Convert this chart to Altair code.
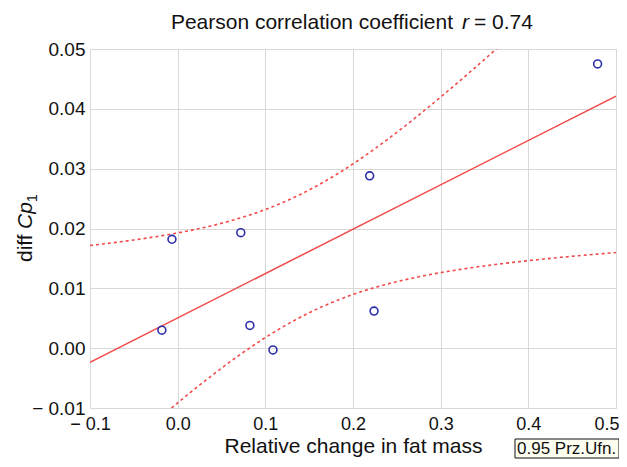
import altair as alt
import numpy as np
import pandas as pd

# ---- data ----
fat_change = [-0.018, -0.0065, 0.072, 0.0824, 0.1087, 0.219, 0.224, 0.479]
diff_cp1 = [0.0030, 0.0182, 0.0193, 0.0038, -0.0003, 0.0288, 0.0062, 0.0475]
x_ticks = [-0.1, 0.0, 0.1, 0.2, 0.3, 0.4, 0.5]
y_ticks = [-0.01, 0.0, 0.01, 0.02, 0.03, 0.04, 0.05]
x_domain = [-0.1, 0.5]
y_domain = [-0.01, 0.05]
t_crit = 2.447  # t(0.975, df=6) for the 0.95 confidence band

FONT = "Liberation Sans"
RED = "#f24a4a"
BLUE = "#2e2eaa"

pts = pd.DataFrame({"x": fat_change, "y": diff_cp1})

# 95% confidence band of the fitted mean, computed from the points
xa = np.array(fat_change)
ya = np.array(diff_cp1)
n = len(xa)
xm = xa.mean()
sxx = ((xa - xm) ** 2).sum()
slope = ((xa - xm) * (ya - ya.mean())).sum() / sxx
icpt = ya.mean() - slope * xm
resid = ya - (icpt + slope * xa)
s = np.sqrt((resid ** 2).sum() / (n - 2))
grid = np.linspace(x_domain[0], x_domain[1], 241)
fit = icpt + slope * grid
half = t_crit * s * np.sqrt(1.0 / n + (grid - xm) ** 2 / sxx)
band = pd.DataFrame(
    {
        "x": np.concatenate([grid, grid]),
        "y": np.concatenate([fit + half, fit - half]),
        "side": ["upper"] * len(grid) + ["lower"] * len(grid),
    }
)

label_expr_x = "datum.value < -0.0001 ? '\u2212 ' + format(abs(datum.value), '.1f') : format(abs(datum.value) < 0.0001 ? 0 : datum.value, '.1f')"
label_expr_y = "datum.value < -0.0001 ? '\u2212 ' + format(abs(datum.value), '.2f') : format(abs(datum.value) < 0.0001 ? 0 : datum.value, '.2f')"

xs = alt.Scale(domain=x_domain, nice=False, zero=False)
ys = alt.Scale(domain=y_domain, nice=False, zero=False)

x_axis = alt.Axis(
    values=x_ticks, labelExpr=label_expr_x, title="Relative change in fat mass",
    grid=True, gridColor="#d8d8d8", ticks=False, domain=False,
    labelFont=FONT, labelFontSize=18, labelColor="#111", labelPadding=7,
    labelAlign=alt.condition("datum.value > 0.45", alt.value("right"), alt.value("center")),
    labelOffset=alt.condition("datum.value > 0.45", alt.value(3), alt.value(0)),
    titleFont=FONT, titleFontSize=21, titleFontWeight="normal", titleColor="#111",
    titlePadding=2, labelFlush=False,
)
y_axis = alt.Axis(
    values=y_ticks, labelExpr=label_expr_y, title=None,
    grid=True, gridColor="#d8d8d8", ticks=False, domain=False,
    labelFont=FONT, labelFontSize=19, labelColor="#111", labelPadding=5,
    labelFlush=False,
)

base_pts = alt.Chart(pts)

points = base_pts.mark_point(shape="circle", filled=False, color=BLUE, size=62, strokeWidth=1.6, opacity=1).encode(
    x=alt.X("x:Q", scale=xs, axis=x_axis),
    y=alt.Y("y:Q", scale=ys, axis=y_axis),
)

reg = base_pts.transform_regression("x", "y", extent=x_domain).mark_line(
    color=RED, strokeWidth=1.5, clip=True
).encode(x=alt.X("x:Q", scale=xs), y=alt.Y("y:Q", scale=ys))

bands = alt.Chart(band).mark_line(
    color=RED, strokeWidth=1.6, strokeDash=[3, 3], clip=True
).encode(
    x=alt.X("x:Q", scale=xs), y=alt.Y("y:Q", scale=ys), detail="side:N"
)

one = pd.DataFrame({"a": [0]})

def txt(text, x, y, size=21, style="normal", align="left", angle=0, baseline="alphabetic"):
    kw = dict(text=text, font=FONT, fontSize=size, fontStyle=style, align=align,
              baseline=baseline, color="#111")
    if angle:
        kw["angle"] = angle
    return alt.Chart(one).mark_text(**kw).encode(x=alt.value(x), y=alt.value(y))

# title with italic r
title_parts = [
    txt("Pearson correlation coefficient", 363, -20, align="right"),
    txt("r", 372, -20, style="italic"),
    txt("= 0.74", 384, -20),
]

# y label: diff Cp_1 (rotated)
ylab_parts = [
    txt("diff", -58, 213, angle=270),
    txt("Cp", -58, 180, style="italic", angle=270),
    txt("1", -53, 153, size=14, angle=270),
]

legend_box = alt.Chart(one).mark_rect(fill="#fffff2", stroke="#111", strokeWidth=1).encode(
    x=alt.value(425), x2=alt.value(529), y=alt.value(390), y2=alt.value(409)
)
legend_text = txt("0.95 Prz.Ufn.", 427, 405, size=17)

chart = alt.layer(
    bands, reg, points, *title_parts, *ylab_parts, legend_box, legend_text
).properties(
    width=526, height=359,
    autosize=alt.AutoSizeParams(type="none"),
    padding={"left": 82, "top": 41, "right": 3, "bottom": 51},
).configure_view(stroke="#555", strokeWidth=1.5).configure(background="white")

chart.save("out.html", embed_options={"renderer": "svg", "actions": False})
